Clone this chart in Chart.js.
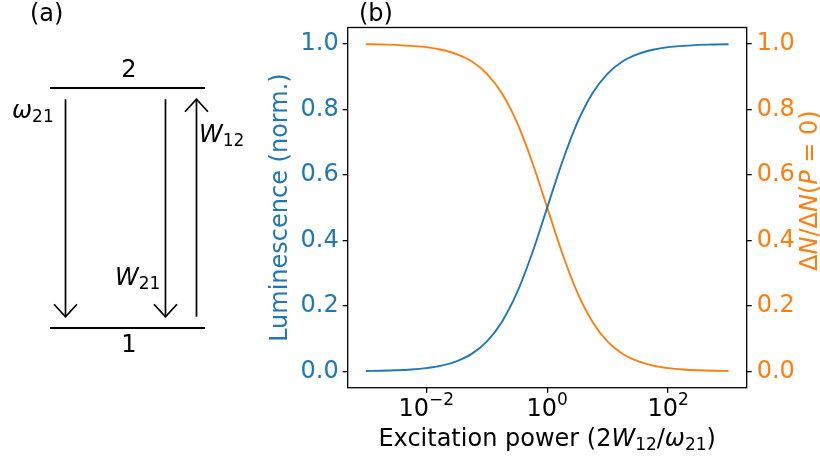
<!DOCTYPE html>
<html lang="en">
<head>
    <meta charset="UTF-8">
    <title>Two-level system: luminescence saturation</title>
    <style>
        body {
            margin: 0;
            background-color: #fff;
            font-family: "DejaVu Sans", sans-serif;
        }
        .figure {
            position: relative;
            width: 820px;
            height: 456px;
        }
        .panel {
            position: absolute;
            top: 0;
            height: 456px;
        }
    </style>
</head>
<body>
    <div class="figure">
        <div class="panel" style="left:0;width:260px"><canvas id="levelCanvas"></canvas></div>
        <div class="panel" style="left:260px;width:560px"><canvas id="satCanvas"></canvas></div>
    </div>

    <script src="https://cdn.jsdelivr.net/npm/chart.js"></script>
    <script>
        // ---- (a) level scheme ----
        const levelNames = ['1', '2'];
        const levelEnergy = [0, 1];
        const transitionNames = ['ω21', 'W21', 'W12'];
        const transitionFrom = [1, 1, 0];   // index into levelEnergy
        const transitionTo = [0, 0, 1];

        // ---- (b) saturation curves ----
        const power = [0.001, 0.00178, 0.00316, 0.00562, 0.01, 0.0178, 0.0316, 0.0562,
                       0.1, 0.178, 0.316, 0.562, 1, 1.78, 3.16, 5.62,
                       10, 17.8, 31.6, 56.2, 100, 178, 316, 562, 1000];
        const luminescence = [0.001, 0.0018, 0.0032, 0.0056, 0.0099, 0.0175, 0.0307, 0.0532,
                              0.091, 0.151, 0.240, 0.360, 0.500, 0.640, 0.760, 0.849,
                              0.909, 0.947, 0.969, 0.982, 0.990, 0.994, 0.997, 0.998, 0.999];
        const inversion = [0.999, 0.998, 0.997, 0.994, 0.990, 0.982, 0.969, 0.947,
                           0.909, 0.849, 0.760, 0.640, 0.500, 0.360, 0.240, 0.151,
                           0.091, 0.053, 0.031, 0.0175, 0.0099, 0.0056, 0.0032, 0.0018, 0.001];
        const yTicks = [0, 0.2, 0.4, 0.6, 0.8, 1.0];
        const xTicks = [0.01, 1, 100];
        const xTickExp = ['−2', '0', '2'];

        const BLUE = '#1f77b4';
        const ORANGE = '#ff7f0e';
        const FS = 24;

        // draws a line of text made of runs (italic / subscript / superscript)
        function drawRich(ctx, runs, x, y, size, align) {
            const fontOf = r => (r.it ? 'italic ' : '') + ((r.sub || r.sup) ? Math.round(size * 0.7) : size) + 'px "DejaVu Sans"';
            let w = 0;
            runs.forEach(r => { ctx.font = fontOf(r); w += ctx.measureText(r.t).width; });
            let cx = align === 'center' ? x - w / 2 : x;
            ctx.textAlign = 'left';
            runs.forEach(r => {
                ctx.font = fontOf(r);
                const dy = r.sub ? 0.18 * size : (r.sup ? -0.45 * size : 0);
                ctx.fillText(r.t, cx, y + dy);
                cx += ctx.measureText(r.t).width;
            });
        }

        // column of each transition arrow, in level-width units
        const arrowCol = [0.1, 0.745, 0.945];
        const arrowGap = 0.047;

        const levelData = levelEnergy.map(e => [{ x: 0, y: e }, { x: 1, y: e }]);
        const arrowData = transitionNames.map((n, i) => {
            const a = levelEnergy[transitionFrom[i]], b = levelEnergy[transitionTo[i]];
            const s = Math.sign(b - a);
            return [{ x: arrowCol[i], y: a + s * arrowGap }, { x: arrowCol[i], y: b - s * arrowGap }];
        });

        const levelLabels = {
            id: 'levelLabels',
            afterDatasetsDraw(chart) {
                const ctx = chart.ctx;
                const xs = chart.scales.x, ys = chart.scales.y;
                ctx.save();
                ctx.fillStyle = '#000';
                ctx.strokeStyle = '#000';
                ctx.lineWidth = 1.7;
                ctx.textBaseline = 'alphabetic';
                // arrow heads
                arrowData.forEach(seg => {
                    const px = xs.getPixelForValue(seg[1].x);
                    const py = ys.getPixelForValue(seg[1].y);
                    const dir = ys.getPixelForValue(seg[1].y) > ys.getPixelForValue(seg[0].y) ? -1 : 1;
                    ctx.beginPath();
                    ctx.moveTo(px - 11.5, py + dir * 12.5);
                    ctx.lineTo(px, py);
                    ctx.lineTo(px + 11.5, py + dir * 12.5);
                    ctx.stroke();
                });
                // level names
                ctx.font = FS + 'px "DejaVu Sans"';
                ctx.textAlign = 'center';
                const cx = xs.getPixelForValue(0.5) + 1.5;
                ctx.fillText(levelNames[1], cx, ys.getPixelForValue(levelEnergy[1]) - 11);
                ctx.fillText(levelNames[0], cx, ys.getPixelForValue(levelEnergy[0]) + 24);
                // transition labels
                const top = ys.getPixelForValue(levelEnergy[1]);
                const bot = ys.getPixelForValue(levelEnergy[0]);
                drawRich(ctx, [{ t: 'ω', it: true }, { t: '21', sub: true }], 12, top + 30, FS);
                drawRich(ctx, [{ t: 'W', it: true }, { t: '21', sub: true }], 115, bot - 43, FS);
                drawRich(ctx, [{ t: 'W', it: true }, { t: '12', sub: true }], 199, top + 54, FS);
                ctx.font = FS + 'px "DejaVu Sans"';
                ctx.textAlign = 'left';
                ctx.fillText('(a)', 30, 21);
                ctx.restore();
            }
        };

        new Chart(document.getElementById('levelCanvas'), {
            type: 'line',
            data: {
                datasets: [
                    ...levelData.map(d => ({ data: d, borderColor: '#000', borderWidth: 2, pointRadius: 0 })),
                    ...arrowData.map(d => ({ data: d, borderColor: '#000', borderWidth: 1.7, pointRadius: 0 }))
                ]
            },
            options: {
                responsive: true,
                maintainAspectRatio: false,
                animation: false,
                events: [],
                layout: { padding: 0 },
                plugins: { legend: { display: false }, tooltip: { enabled: false } },
                scales: {
                    x: { type: 'linear', display: false, min: -50 / 155, max: 210 / 155 },
                    y: { type: 'linear', display: false, min: -128 / 240, max: 1 + 88 / 240 }
                }
            },
            plugins: [levelLabels]
        });

        // frame, x tick labels with exponents, axis titles
        const satDecor = {
            id: 'satDecor',
            afterDraw(chart) {
                const ctx = chart.ctx;
                const a = chart.chartArea;
                const xs = chart.scales.x;
                ctx.save();
                ctx.strokeStyle = '#000';
                ctx.lineWidth = 1.3;
                ctx.strokeRect(a.left, a.top, a.right - a.left, a.bottom - a.top);

                ctx.fillStyle = '#000';
                ctx.textBaseline = 'alphabetic';
                xTicks.forEach((v, i) => {
                    drawRich(ctx, [{ t: '10' }, { t: xTickExp[i], sup: true }], xs.getPixelForValue(v), a.bottom + 28, FS, 'center');
                });
                drawRich(ctx, [{ t: 'Excitation power (2' }, { t: 'W', it: true }, { t: '12', sub: true },
                               { t: '/' }, { t: 'ω', it: true }, { t: '21', sub: true }, { t: ')' }],
                         (a.left + a.right) / 2, a.bottom + 58, FS, 'center');

                ctx.font = FS + 'px "DejaVu Sans"';
                ctx.textAlign = 'left';
                ctx.fillText('(b)', 99, 21);

                // left title
                ctx.save();
                ctx.translate(21, (a.top + a.bottom) / 2);
                ctx.rotate(-Math.PI / 2);
                ctx.fillStyle = BLUE;
                ctx.font = FS + 'px "DejaVu Sans"';
                ctx.textAlign = 'center';
                ctx.textBaseline = 'middle';
                ctx.fillText('Luminescence (norm.)', 0, 0);
                ctx.restore();

                // right title
                ctx.save();
                ctx.translate(chart.width - 3, (a.top + a.bottom) / 2 - 17);
                ctx.rotate(-Math.PI / 2);
                ctx.fillStyle = ORANGE;
                ctx.textBaseline = 'alphabetic';
                drawRich(ctx, [{ t: 'Δ' }, { t: 'N', it: true }, { t: '/Δ' }, { t: 'N', it: true }, { t: '(' },
                               { t: 'P', it: true }, { t: ' = 0)' }], 0, 0, FS, 'center');
                ctx.restore();
                ctx.restore();
            }
        };

        const fixTicks = vals => scale => { scale.ticks = vals.map(v => ({ value: v })); };

        new Chart(document.getElementById('satCanvas'), {
            type: 'line',
            data: {
                datasets: [
                    {
                        data: power.map((p, i) => ({ x: p, y: luminescence[i] })),
                        borderColor: BLUE, borderWidth: 1.9, pointRadius: 0,
                        cubicInterpolationMode: 'monotone', yAxisID: 'y'
                    },
                    {
                        data: power.map((p, i) => ({ x: p, y: inversion[i] })),
                        borderColor: ORANGE, borderWidth: 1.9, pointRadius: 0,
                        cubicInterpolationMode: 'monotone', yAxisID: 'y2'
                    }
                ]
            },
            options: {
                responsive: true,
                maintainAspectRatio: false,
                animation: false,
                events: [],
                layout: { padding: { top: 27.5, left: 0, right: 0, bottom: 0 } },
                plugins: { legend: { display: false }, tooltip: { enabled: false } },
                scales: {
                    x: {
                        type: 'logarithmic',
                        min: Math.pow(10, -3.3),
                        max: Math.pow(10, 3.3),
                        afterBuildTicks: fixTicks(xTicks),
                        afterFit: s => { s.height = 68.3; },
                        border: { display: false },
                        grid: { drawOnChartArea: false, tickLength: 5, tickColor: '#000', lineWidth: 1.3 },
                        ticks: { callback: () => '', maxRotation: 0, autoSkip: false }
                    },
                    y: {
                        position: 'left',
                        min: -0.05, max: 1.05,
                        afterBuildTicks: fixTicks(yTicks),
                        afterFit: s => { s.width = 87.7; },
                        border: { display: false },
                        grid: { drawOnChartArea: false, tickLength: 5, tickColor: '#000', lineWidth: 1.3 },
                        ticks: {
                            color: BLUE, padding: 4,
                            font: { family: 'DejaVu Sans', size: FS },
                            callback: v => v.toFixed(1)
                        }
                    },
                    y2: {
                        position: 'right',
                        min: -0.05, max: 1.05,
                        afterBuildTicks: fixTicks(yTicks),
                        afterFit: s => { s.width = 73.3; },
                        border: { display: false },
                        grid: { drawOnChartArea: false, tickLength: 5, tickColor: '#000', lineWidth: 1.3 },
                        ticks: {
                            color: ORANGE, padding: 5,
                            font: { family: 'DejaVu Sans', size: FS },
                            callback: v => v.toFixed(1)
                        }
                    }
                }
            },
            plugins: [satDecor]
        });
    </script>
</body>
</html>
